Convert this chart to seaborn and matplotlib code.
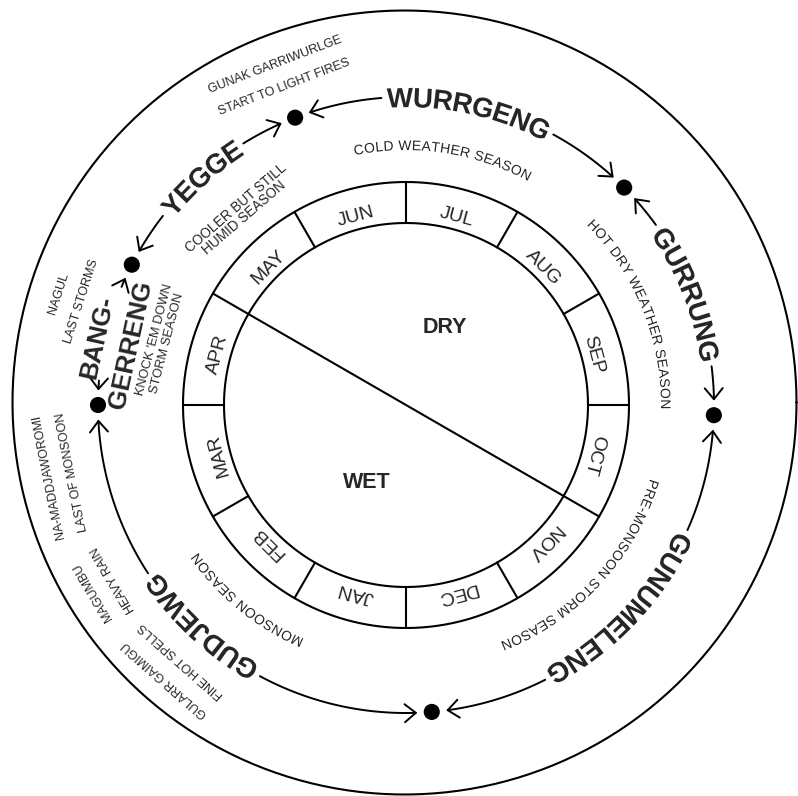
import numpy as np
import seaborn as sns
import matplotlib.pyplot as plt
import matplotlib.patheffects as pe
from matplotlib.font_manager import FontProperties, findfont, get_font

# months round the inner ring, clockwise, JUN/JUL split at the top
months = ["JAN", "FEB", "MAR", "APR", "MAY", "JUN",
          "JUL", "AUG", "SEP", "OCT", "NOV", "DEC"]
halves = ["DRY", "WET"]

# the six seasons, clockwise from the top
seasons = ["WURRGENG", "GURRUNG", "GUNUMELENG", "GUDJEWG", "BANG-\nGERRENG", "YEGGE"]
season_notes = ["COLD WEATHER SEASON", "HOT DRY WEATHER SEASON",
                "PRE-MONSOON STORM SEASON", "MONSOON SEASON",
                "KNOCK 'EM DOWN\nSTORM SEASON", "COOLER BUT STILL\nHUMID SEASON"]
# angle (deg, 0 = 3 o'clock, counter-clockwise) of the dot where each season starts
season_starts = [111.1, 44.9, -1.9, -85.2, 180.0, 152.9]

# shorter named periods round the outside
sub_names = ["GUNAK GARRIWURLGE", "NAGUL", "NA-MADDJAWOROMI", "MAGUMBU", "GULARR GAIMIGU"]
sub_notes = ["START TO LIGHT FIRES", "LAST STORMS", "LAST OF MONSOON", "HEAVY RAIN", "FINE HOT SPELLS"]
sub_angles = [111.0, 162.2, 191.3, 210.8, 228.7]

# %%
sns.set_theme(style="white")
plt.rcParams["font.family"] = ["Liberation Sans", "DejaVu Sans"]

W, H = 798, 796
cx, cy = 406, 405
R_IN, R_OUT, R_SEASON = 182, 223, 308
PX = 100 / 72
PE = [pe.Normal()]  # draw letters as outlines so rotated glyphs keep their spacing

fig = plt.figure(figsize=(W / 100, H / 100), dpi=100, facecolor="white")
ax = fig.add_axes([0, 0, 1, 1])


def polar(r, deg):
    th = np.radians(deg)
    return np.array([cx + r * np.cos(th), cy - r * np.sin(th)])


def circle(r, c=(cx, cy), lw=1.5):
    t = np.linspace(0, 2 * np.pi, 400)
    ax.plot(c[0] + r * np.cos(t), c[1] - r * np.sin(t), color="black", lw=lw)


def arc(r, a0, a1, lw=1.4):
    t = np.radians(np.linspace(a0, a1, 80))
    ax.plot(cx + r * np.cos(t), cy - r * np.sin(t), color="black", lw=lw)


def font(size, bold=False):
    return FontProperties(family="Liberation Sans", size=size,
                          weight="bold" if bold else "normal")


def glyph_adv(ch, fp):
    f = get_font(findfont(fp))
    f.set_size(fp.get_size_in_points(), 72)
    g = f.load_char(ord(ch))
    return g.linearHoriAdvance / 65536 * PX


def base_r(r, fp):
    return r - 0.716 * fp.get_size_in_points() * PX / 2


def arc_text(s, r, deg, fp, track=0.0):
    # letters set one by one along a clockwise arc, tops pointing outward
    ws = [glyph_adv(c, fp) for c in s]
    total = sum(ws) + track * (len(s) - 1)
    rb = base_r(r, fp)
    pos = -total / 2
    for c, w in zip(s, ws):
        if c != " ":
            a_pen = deg - np.degrees(pos / r)
            a_mid = deg - np.degrees((pos + w / 2) / r)
            x, y = polar(rb, a_pen)
            ax.text(x, y, c, rotation=(a_mid - 90) % 360, rotation_mode="anchor",
                    ha="left", va="baseline", fontproperties=fp, path_effects=PE)
        pos += w + track
    return np.degrees(total / r)


def flat_text(s, r, deg, fp):
    x, y = polar(base_r(r, fp), deg)
    ax.text(x, y, s, rotation=(deg - 90) % 360, rotation_mode="anchor",
            ha="center", va="baseline", fontproperties=fp)


def arrow_tip(deg, ccw):
    th = np.radians(deg)
    tip = polar(R_SEASON, deg)
    d = np.array([np.sin(th), np.cos(th)])
    if ccw:
        d = -d
    n = np.array([-d[1], d[0]])
    back = tip - d * 11
    p1, p2 = back + n * 9, back - n * 9
    ax.plot([p1[0], tip[0], p2[0]], [p1[1], tip[1], p2[1]], color="black", lw=1.4)


# outer circle
circle(392, c=(404.5, 402.5), lw=1.5)

# month ring
circle(R_IN)
circle(R_OUT)
for k in range(12):
    p, q = polar(R_IN, k * 30), polar(R_OUT, k * 30)
    ax.plot([p[0], q[0]], [p[1], q[1]], color="black", lw=1.5)
fm = font(14)
for i, m in enumerate(months):
    a = 105 - 30 * (i - 5)
    flat_text(m, 197, a, fm)

# dry / wet split
p, q = polar(R_IN, 150), polar(R_IN, -30)
ax.plot([p[0], q[0]], [p[1], q[1]], color="black", lw=1.5)
fh = font(15.5, bold=True)
for lab, a in zip(halves, [63.5, -116.5]):
    x, y = polar(87, a)
    ax.text(x, y, lab, ha="center", va="center", fontproperties=fh)

# season arcs
b = [season_starts[0]]
for a in season_starts[1:] + [season_starts[0]]:
    while a >= b[-1]:
        a -= 360
    b.append(a)

fs = font(20, bold=True)
fs2 = font(18.5, bold=True)
fn = font(10)
fn2 = font(9.3)
note_shift = [3.5, 0.5, 1.0, 3.5, -1.0, -1.2]
TIP = np.degrees(16 / R_SEASON)
PAD = np.degrees(5 / R_SEASON)

for i, (name, note) in enumerate(zip(seasons, season_notes)):
    a0, a1 = b[i], b[i + 1]
    mid = (a0 + a1) / 2
    if "\n" in name:
        l1, l2 = name.split("\n")
        flat_text(l1, 318.5, mid + 1.1, fs2)
        flat_text(l2, 284, mid + 1.3, fs2)
        half = 9.0
    else:
        half = arc_text(name, R_SEASON, mid, fs) / 2 + PAD
    arc(R_SEASON, a0 - TIP, mid + half)
    arc(R_SEASON, mid - half, a1 + TIP)
    arrow_tip(a0 - TIP, ccw=True)
    arrow_tip(a1 + TIP, ccw=False)

    na = mid + note_shift[i]
    if "\n" in note:
        l1, l2 = note.split("\n")
        f = font(9.8) if i == 5 else fn2
        flat_text(l1, 261, na, f)
        flat_text(l2, 248, na, f)
    else:
        arc_text(note, 260, na, fn, track=0.5)

# dots between the seasons
dots = np.array([polar(R_SEASON, a) for a in season_starts])
sns.scatterplot(x=dots[:, 0], y=dots[:, 1], s=135, color="black",
                edgecolor="none", ax=ax, zorder=5, legend=False)

# outer names
fo = font(9)
for s, t, a in zip(sub_names, sub_notes, sub_angles):
    flat_text(s, 366, a, fo)
    flat_text(t, 342, a, fo)

ax.set_xlim(0, W)
ax.set_ylim(H, 0)
ax.set_axis_off()
fig.savefig("out.png", dpi=100, facecolor="white")
